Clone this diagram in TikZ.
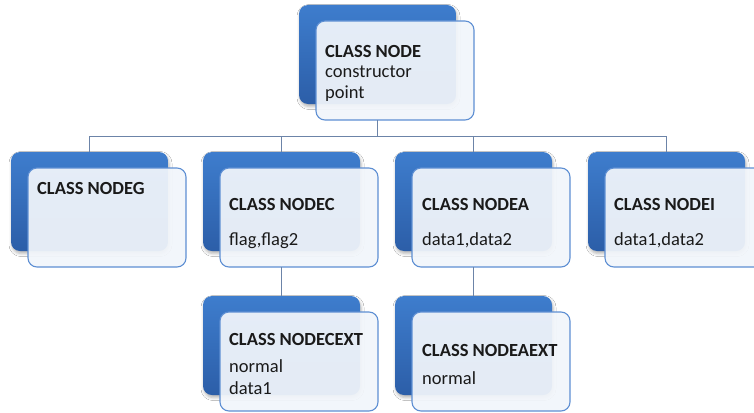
\documentclass[tikz,border=0pt]{standalone}
\usepackage{fontspec}
\setmainfont{Carlito}
\usetikzlibrary{shadows.blur}

\definecolor{boxtop}{HTML}{3E7DCD}
\definecolor{boxbot}{HTML}{2C5EA8}
\definecolor{cardfill}{HTML}{F2F6FB}
\definecolor{cardline}{HTML}{5E8FD3}
\definecolor{linkcol}{HTML}{6C84A8}
\definecolor{inkcol}{HTML}{1A1A1A}

\tikzset{
  backbox/.style={rectangle, rounded corners=9pt, anchor=north west,
    minimum width=157pt, minimum height=99pt, inner sep=0pt, outer sep=0pt,
    top color=boxtop, bottom color=boxbot, draw=none,
    blur shadow={shadow xshift=1pt, shadow yshift=-2.5pt,
                 shadow blur radius=3pt, shadow opacity=30}},
  cardbox/.style={rectangle, rounded corners=9pt, anchor=north west,
    minimum width=158pt, minimum height=99pt, inner sep=0pt, outer sep=0pt,
    fill=cardfill, fill opacity=0.93, draw=cardline, line width=1.1pt,
    xshift=17pt, yshift=-16pt},
  label/.style={anchor=base west, inner sep=0pt, text=inkcol,
    font=\fontsize{18.5}{22}\selectfont},
  title/.style={label, font=\fontsize{18.5}{22}\selectfont\bfseries},
  link/.style={draw=linkcol, line width=0.9pt},
}

\begin{document}
\begin{tikzpicture}[x=1pt, y=-1pt]
  \path[use as bounding box, clip] (0,0) rectangle (754,412);
  \fill[white] (0,0) rectangle (754,412);

  % back panels
  \node[backbox] (topback)  at (299,5)   {};
  \node[backbox] (gback)    at (11,152)  {};
  \node[backbox] (cback)    at (203,152) {};
  \node[backbox] (aback)    at (395,152) {};
  \node[backbox] (iback)    at (588,152) {};
  \node[backbox] (cextback) at (203,296) {};
  \node[backbox] (aextback) at (395,296) {};

  % front cards
  \node[cardbox] (topfront)  at (topback.north west)  {};
  \node[cardbox] (gfront)    at (gback.north west)    {};
  \node[cardbox] (cfront)    at (cback.north west)    {};
  \node[cardbox] (afront)    at (aback.north west)    {};
  \node[cardbox] (ifront)    at (iback.north west)    {};
  \node[cardbox] (cextfront) at (cextback.north west) {};
  \node[cardbox] (aextfront) at (aextback.north west) {};

  % hierarchy links
  \coordinate (bus) at (0,136);
  \draw[link] (topback.south |- topfront.south) -- (topback.south |- bus);
  \draw[link] (gback.north |- bus) -- (iback.north |- bus);
  \draw[link] (gback.north |- bus) -- (gback.north);
  \draw[link] (cback.north |- bus) -- (cback.north);
  \draw[link] (aback.north |- bus) -- (aback.north);
  \draw[link] (iback.north |- bus) -- (iback.north);
  \draw[link] (cback.south |- cfront.south) -- (cextback.north);
  \draw[link] (aback.south |- afront.south) -- (aextback.north);

  % texts
  \node[title] (toptitle) at ([xshift=9pt,yshift=-36pt]topfront.north west) {CLASS NODE};
  \node[label] (topl1) at ([xshift=9pt,yshift=-56.5pt]topfront.north west) {constructor};
  \node[label] (topl2) at ([xshift=9pt,yshift=-77pt]topfront.north west) {point};

  \node[title] (gtitle) at ([xshift=9pt,yshift=-26pt]gfront.north west) {CLASS NODEG};

  \node[title] (ctitle) at ([xshift=9pt,yshift=-42pt]cfront.north west) {CLASS NODEC};
  \node[label] (cl1) at ([xshift=9pt,yshift=-77pt]cfront.north west) {flag,flag2};

  \node[title] (atitle) at ([xshift=10pt,yshift=-42pt]afront.north west) {CLASS NODEA};
  \node[label] (al1) at ([xshift=10pt,yshift=-77pt]afront.north west) {data1,data2};

  \node[title] (ititle) at ([xshift=9pt,yshift=-42pt]ifront.north west) {CLASS NODEI};
  \node[label] (il1) at ([xshift=9pt,yshift=-77pt]ifront.north west) {data1,data2};

  \node[title] (cexttitle) at ([xshift=9pt,yshift=-33pt]cextfront.north west) {CLASS NODECEXT};
  \node[label] (cextl1) at ([xshift=9pt,yshift=-60pt]cextfront.north west) {normal};
  \node[label] (cextl2) at ([xshift=9pt,yshift=-82pt]cextfront.north west) {data1};

  \node[title] (aexttitle) at ([xshift=10pt,yshift=-44pt]aextfront.north west) {CLASS NODEAEXT};
  \node[label] (aextl1) at ([xshift=10pt,yshift=-72pt]aextfront.north west) {normal};
\end{tikzpicture}
\end{document}
